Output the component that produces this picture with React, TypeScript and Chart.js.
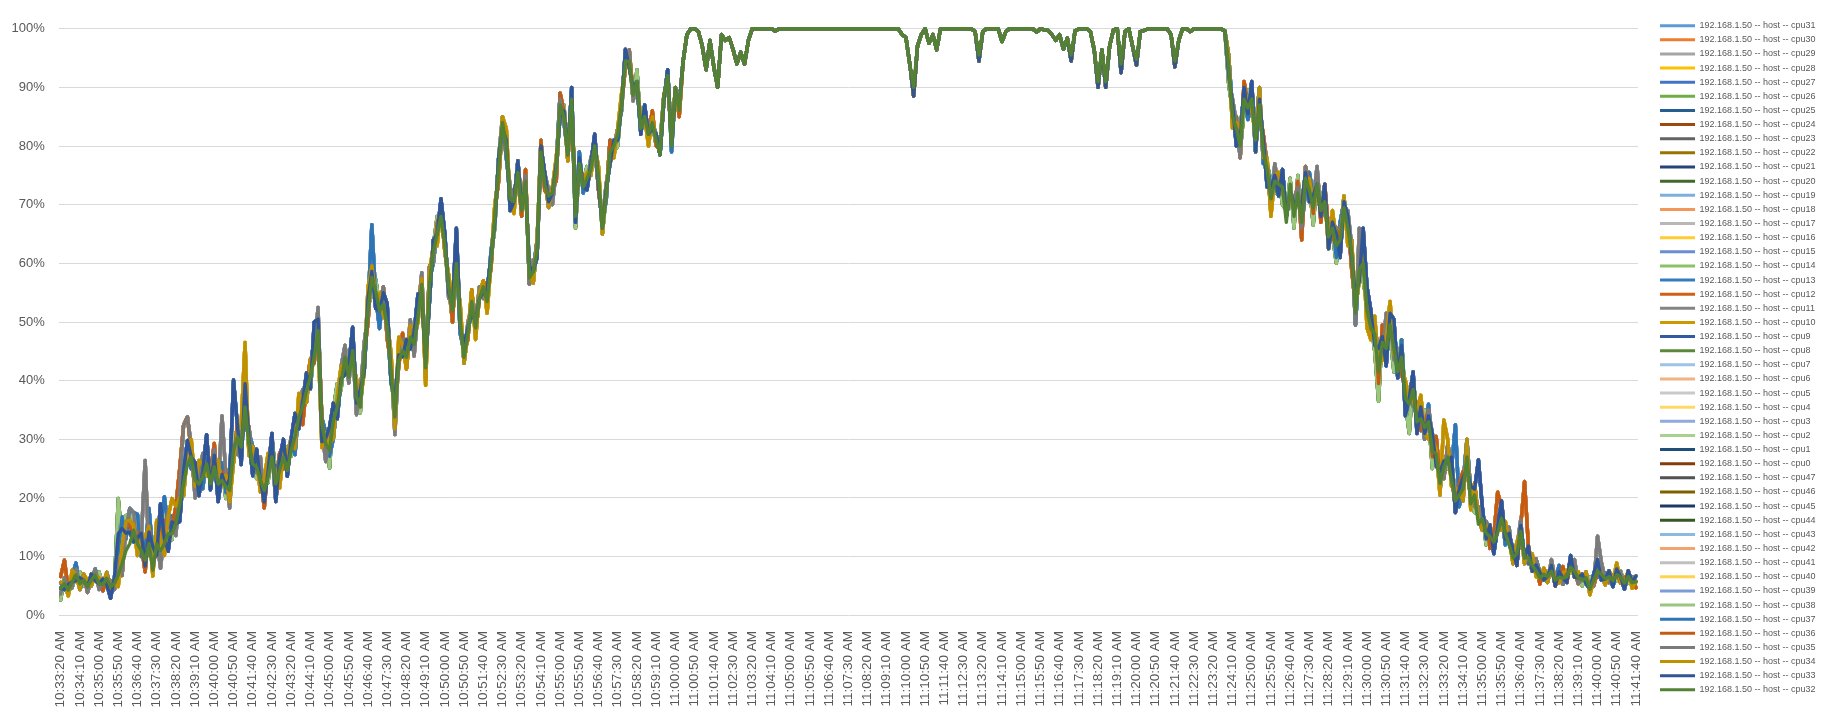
import React, { useEffect, useRef } from 'react';
import { Chart, registerables } from 'chart.js';

Chart.register(...registerables);

// ---------- categories (10-second samples) ----------
const START_TIME = '10:33:20';
const STEP_SECONDS = 10;
const LABEL_EVERY = 5; // an axis label every 50 s

// ---------- series names / colours (legend order) ----------
const HOST = '192.168.1.50 -- host -- ';
const CPU_IDS = [
  31, 30, 29, 28, 27, 26, 25, 24, 23, 22, 21, 20, 19, 18, 17, 16, 15, 14, 13, 12, 11, 10, 9, 8,
  7, 6, 5, 4, 3, 2, 1, 0, 47, 46, 45, 44, 43, 42, 41, 40, 39, 38, 37, 36, 35, 34, 33, 32,
];
const COLORS = [
  '#5B9BD5', '#ED7D31', '#A5A5A5', '#FFC000', '#4472C4', '#70AD47',
  '#255E91', '#9E480E', '#636363', '#997300', '#264478', '#43682B',
  '#7CAFDD', '#F1975A', '#B7B7B7', '#FFCD33', '#698ED0', '#8CC168',
  '#327DC2', '#D26012', '#848484', '#CC9A00', '#335AA1', '#5A8A39',
  '#9DC3E6', '#F4B183', '#C9C9C9', '#FFD966', '#8FAADC', '#A9D18E',
  '#1F4E79', '#843C0C', '#525252', '#7F6000', '#203864', '#385723',
  '#8CB9E2', '#F2A46F', '#C0C0C0', '#FFD34D', '#7C9CD6', '#9BC67E',
  '#2E75B6', '#C55A11', '#7B7B7B', '#BF9000', '#2F5597', '#548235',
];

// ---------- main (top-most, cpu32) curve, % ----------
const BASE = [
  4.6, 5.4, 4.3, 5.7, 6.9, 5.4, 6, 4.9, 6, 6.9,
  5.4, 5.2, 6.3, 4.9, 5.4, 6.9, 8.8, 11, 12.2, 14.5,
  12.2, 11, 9.4, 12.2, 7.7, 12.2, 11, 12.2, 13.9, 13.9,
  15.6, 19, 22.4, 25.8, 27, 23, 22.4, 23.6, 25.8, 22.4,
  25.3, 22.4, 23, 21.9, 21.3, 28.1, 30.4, 28.7, 35.5, 29.2,
  25.8, 25.3, 23, 21.3, 23.6, 27, 22.4, 24.7, 27, 24.7,
  28.1, 30.4, 33.8, 35.5, 38.3, 40.6, 44, 48.5, 32.6, 29.2,
  28.1, 33.2, 35.5, 39.4, 44, 40.6, 45.1, 37.2, 35.5, 43.4,
  51.9, 57.6, 55.3, 51.9, 53, 49.1, 41.7, 33.8, 43.4, 45.1,
  44, 47.4, 46.2, 50.8, 56.4, 42.2, 56.4, 62, 65, 68,
  63, 56, 52, 60, 50, 44, 48, 53.5, 49, 54,
  56, 53.5, 60, 68, 76, 84, 80, 71, 70.5, 75.5,
  69, 74, 57.5, 58.6, 62, 79, 73.4, 71.5, 72, 76,
  87, 85, 78.5, 88, 68, 77, 73, 74.5, 76, 80,
  74.5, 66, 71.7, 79, 80, 82, 87, 94.5, 94.4, 88.7,
  91, 83, 85, 82, 84, 81, 78.5, 88.7, 92, 80,
  90, 86, 94.4, 99, 100, 100, 99.5, 97, 93, 98,
  93.5, 90, 99, 98, 98.5, 96.5, 94, 96, 94, 98,
  100, 100, 100, 100, 100, 100, 99.6, 100, 100, 100,
  100, 100, 100, 100, 100, 100, 100, 100, 100, 100,
  100, 100, 100, 100, 100, 100, 100, 100, 100, 100,
  100, 100, 100, 100, 100, 100, 100, 100, 100, 99,
  98.5, 94, 90, 97, 99, 100, 97.5, 99, 96.4, 100,
  100, 100, 100, 100, 100, 100, 100, 100, 99.5, 95.5,
  99.5, 100, 100, 100, 100, 97.8, 99.5, 100, 100, 100,
  100, 100, 100, 100, 99.4, 100, 99.8, 99.7, 99, 98,
  99, 96.5, 98.4, 95.5, 99.6, 100, 100, 100, 99.5, 96.4,
  91, 96.4, 91, 97, 99.8, 100, 94, 99.5, 100, 97,
  94.8, 99.5, 99.7, 100, 100, 100, 100, 100, 100, 99,
  94.5, 98, 100, 100, 99.5, 100, 100, 100, 100, 100,
  100, 100, 100, 99.6, 93.5, 85, 83, 80, 88, 86.5,
  88, 81, 87, 79, 76, 71, 74, 73.5, 73, 67,
  73.5, 68, 72, 67, 74.5, 72.5, 69.5, 73.5, 69, 70.5,
  64.5, 66, 63, 64, 69.5, 66, 62, 51.5, 59, 60,
  52, 49, 48, 41.5, 46.5, 45.5, 49.5, 45.5, 41.5, 44,
  37, 36, 38.5, 33, 33.5, 32, 33, 28, 27.5, 22.5,
  25.3, 27, 23, 19.5, 20.5, 21.5, 27, 19, 20.5, 15.5,
  16.5, 14, 13.4, 12.5, 14, 16.5, 14, 12, 9.8, 10.5,
  14.3, 9.8, 9.8, 8.5, 7.6, 6.3, 7, 6.6, 7.5, 6,
  6.5, 6.3, 6.6, 8.2, 7.5, 6.4, 6, 6.4, 4.5, 6,
  7.5, 7, 6.2, 6.6, 5.9, 6.9, 6.5, 5.5, 6.6, 5.6,
  5.7,
];

// ---------- how the other cores sit around the main curve (percentage points) ----------
// regions start at these sample indices; samples 163..303 form the 100 % plateau
const REGION_STARTS = [0, 15, 45, 100, 304, 341, 385];
const PLATEAU_FIRST = 163;
const PLATEAU_LAST = 303;
const PLATEAU_DIPS = [[222, -1.5], [239, -1], [263, -1], [270, -1], [272, -1], [276, -1.5], [280, -1], [290, -1]];

const VAR_A = [
  [0, -1, 1, 0, -1, 1, 0, 0, 1, -1, 0, 1, -1, -2, 1],
  [7, 6, 3, 2, -2, 1, 3, -1, 2, 4, -2, 8, 1, -3, 2, 0, -3, 2, 4, 0, 3, -2, 1, 5, -1, 2, -3, 1, 0, 2],
  [12, 2, -3, 4, 1, -2, 3, 0, -2, 1, 4, -3, 2, 3, -1, 2, 4, -2, 1, 3, -2, 6, 2, -3, 1, 4, 3, -2, 1, -3, 2, 4, -1, 3, -2, 2, 1, -3, 0, 2, 4, -2, 3, 1, -1, 3, -2, 2, 4, -2, 1, -3, 2, 0, 3],
  [2, -1, 1, 6, -1, 2, 1, -2, 1, 0, -1, 2, 1, -1, 2, -1, 1, -2, 0, 2, 1, -1, 2, 0, -1, 1, 2, -1, 0, 1, -2, 1, 0, 2, -1, 1, 0, -2, 1, 2, -1, 0, 1, -2, 1, -1, 0, 2, -1, 1, 0, -1, 2, 0, -1, 1, 0, -1, 1, 0, -1, 1, 0],
  [-1, 2, -3, 1, 2, -1, 3, -2, 1, 2, -3, 2, 1, -2, 3, 1, -1, 2, -2, 3, 1, -2, 2, 0, -1, 3, -2, 1, 2, -3, 1, 2, -1, 3, -2, 6, 4],
  [3, -2, 4, 1, -3, 2, 5, -1, 2, -3, 1, 3, -2, 2, -1, 1, 3, -2, 2, 1, -1, 4, -2, 1, 2, -2, 3, 1, 11, 2, -1, 2, -2, 1, 3, -1, 2, 1, -2, 1, 0, 2, -1, 1],
  [1, -1, 0, 1, -1, 1, 0, -1, 2, -1, 0, 1, -1, 0, 1, 2, -1, 0, 1, -1, 1, 0, -1, 1, 0, 1],
];
const VAR_B = [
  [1, 0, -1, 2, 0, -1, 1, 1, -1, 0, 1, 0, 1, -1, 0],
  [-2, 3, 5, 4, 1, -2, 2, 4, 3, -1, 4, 2, -2, 3, 6, 3, 1, -2, 2, 3, -1, 4, 2, -2, 3, 1, 4, -1, 2, -2],
  [-2, 1, 4, 11, -2, 3, 1, -2, 2, 4, -1, 2, -3, 1, 3, 2, -2, 4, 1, -2, 3, 1, -1, -4, 2, 1, -3, 2, 3, -1, 2, -2, 3, 1, -2, 4, 2, -1, 3, -2, 1, 3, -2, 4, 1, -2, 2, 3, -1, 1, -3, 2, 1, -2, 2],
  [-1, 2, 1, -2, 3, -1, 0, 2, -2, 1, 1, -2, 0, 2, -1, 1, 3, -1, -2, 1, 2, -1, 1, -2, 2, 0, 1, -2, 1, 2, -1, 1, -1, 0, 2, -2, 1, 1, -1, 0, 2, -1, 1, 0, -2, 1, 2, -1, 0, 1, -1, 2, 0, -2, 1, 0, 1, -1, 0, 1, -2, 0, 0],
  [2, -2, 1, 3, -1, 2, -2, 1, 3, -1, 2, -3, 1, 2, -1, 3, -2, 1, -1, 4, -2, 2, 1, -3, 2, 1, -2, 3, 1, -1, 2, -3, 2, 1, -2, 2, -3],
  [-2, 3, 1, -3, 2, 4, -1, 2, -2, 3, 1, -2, 2, 4, -1, -3, 2, 1, -2, 8, 3, -1, 2, 1, -2, 3, -1, 2, 1, -2, 1, 2, -1, 1, -2, 2, 1, -1, 2, 0, -1, 1, 2, -1],
  [0, 1, -1, 1, 0, -1, 1, 1, 0, -1, 1, 0, 1, -1, 0, 1, 0, -1, 1, 0, 2, -1, 0, 1, -1, 0],
];
const VAR_C = [
  [-1, 1, 0, -1, 1, 0, 1, -1, 0, 1, -1, 1, 0, 1, -1],
  [3, -2, 4, 6, 3, -1, 2, 17, -2, 3, 1, -3, 2, 4, 1, -2, 3, 10, 8, 2, -3, 1, 4, -2, 2, 3, -1, 11, 2, -3],
  [1, -3, 2, -2, 3, 1, -1, 4, -2, 2, 1, -3, 2, -1, 3, 2, -2, 1, 3, -2, 2, 1, 4, -1, -3, 2, 1, -2, 3, 2, -1, 1, -3, 2, 3, -1, 2, -2, 1, 3, -1, 2, -3, 1, 2, -1, 3, -2, 1, 2, -1, 3, -2, 1, 2],
  [1, -2, 2, 0, 1, -1, 2, -1, 1, 2, -2, 1, 0, -1, 2, 1, -1, 2, 0, -2, 1, 1, -1, 2, -1, 0, 2, 1, -2, 0, 1, -1, 2, 0, 1, -2, 1, -1, 2, 0, -1, 1, 2, -2, 0, 1, -1, 1, 2, -1, 0, 1, -1, 2, -1, 0, 1, -1, 0, 2, -1, 1, 0],
  [-2, 3, 1, -2, 2, 1, -1, 3, -2, 2, 1, -2, 3, -1, 1, 2, -2, 3, 1, -1, 2, -2, 1, 3, -1, 2, -2, 1, 3, 2, -1, 3, 1, -2, 7, 2, -1],
  [2, 1, 4, -2, 6, 1, -2, 3, 1, -1, 2, -3, 3, 1, -2, 2, 3, -1, 1, -2, 2, 4, -1, 1, -2, 2, 1, -2, 3, -1, 2, 1, -1, 2, -2, 1, 3, -1, 1, 2, -1, 1, 0, 2],
  [1, 0, -1, 2, 0, 1, -1, 0, 1, 2, -1, 0, 1, 0, -1, 6, 2, 0, -1, 1, 0, 1, -1, 0, 1, 0],
];
const VAR_D = [
  [2, 4, 0, 1, -1, 0, 1, -1, 1, 0, 1, -1, 0, 1, 0],
  [2, -2, 5, 3, -1, 2, 1, -2, 3, 1, -1, 2, 4, -2, 1, 3, 6, 10, 8, 1, -2, 3, 1, -1, 2, 4, -2, 1, 3, -1],
  [-1, 2, 1, -2, 3, -1, 2, 1, -3, 2, 1, -1, 3, -2, 2, 1, -1, 2, -3, 1, 3, -1, 2, 1, -2, 3, 1, -1, 2, -3, 1, 2, -1, 3, 1, -2, 2, -1, 1, 3, -2, 1, 2, -1, 3, -2, 1, -1, 2, 1, -2, 3, -1, 2, 1],
  [-1, 1, -2, 2, 0, 1, -1, 2, -1, 0, 1, 2, -1, 1, -2, 0, 2, -1, 1, 0, -1, 2, -1, 1, 0, 2, -1, 0, 1, -2, 2, 1, -1, 0, 1, -1, 2, -1, 0, 1, -2, 1, 0, 2, -1, 1, 0, -1, 2, 0, -1, 1, -1, 0, 2, -1, 1, 0, -1, 1, 0, -1, 0],
  [1, -1, 2, -2, 3, 1, -2, 2, -1, 3, 1, -2, 2, 1, -1, 3, -2, 1, 2, -3, 2, 1, -1, 2, -2, 3, 1, -2, 1, 2, -1, 2, -3, 1, 2, -1, 3],
  [-1, 2, -2, 3, 1, -2, 2, 1, -3, 2, 1, -1, 3, -2, 1, 2, -1, 3, 1, -2, 2, 1, -1, 2, 3, -2, 1, 2, 1, -1, 2, -2, 1, 7, 2, -1, 2, 1, -2, 1, 13, 2, -1, 1],
  [-1, 1, 0, 1, -1, 0, 2, -1, 1, 0, -1, 1, 0, 1, -1, 0, 1, 0, -1, 1, 0, -1, 1, 0, 1, -1],
];
const VAR_E = [
  [-2, 1, 1, -1, 0, 2, -1, 1, 0, -1, 2, 0, -1, 1, 0],
  [13, 4, 6, 5, 2, -1, 3, 1, 4, 2, 3, -2, 5, 2, -1, 3, 1, -2, 4, 2, -1, 3, -2, 2, 1, -1, 3, 2, -2, 1],
  [3, -2, 1, 2, -1, 3, -2, 2, 1, -1, 3, 2, -2, 1, 4, -1, 2, -2, 3, 1, -2, 2, 3, -1, 1, -3, 2, 4, -1, 2, 1, -2, 3, -1, 2, 1, -3, 2, 1, -1, 3, -2, 2, 1, -1, 2, -2, 3, 1, -1, 2, -2, 1, 3, -1],
  [1, 0, -2, 1, 2, -1, 0, 1, -1, 2, 0, -1, 1, -2, 2, 0, 1, -1, 0, 2, -1, 1, 0, -2, 1, 2, 0, -1, 1, -1, 0, 2, -1, 1, -2, 0, 1, 2, -1, 0, 1, -1, 0, 2, -1, -2, 1, 0, 1, -1, 2, 0, -1, 1, 0, -1, 2, 0, -1, 1, 0, 1, 0],
  [-3, 1, 2, -1, -2, 3, 1, -2, 2, -1, 1, 3, -2, 1, -3, 2, 1, -2, 3, -1, 2, 1, -3, 1, 2, -2, 3, -1, -3, 1, 2, -2, 1, -1, 2, -3, 1],
  [1, -3, -5, 2, 1, -2, -4, 1, 3, -1, -5, 2, 1, -2, 3, 1, -3, 2, -1, 1, -2, 3, 1, -1, 2, -2, 1, -3, 2, 1, -2, 1, -1, 2, -1, 1, 2, -1, 1, -2, 1, 0, -1, 1],
  [0, -1, 1, 0, 1, -1, 0, 1, -1, 1, 0, -1, 0, 2, -1, 1, 0, -1, 1, 0, -1, 1, 0, -1, 0, 1],
];
const VAR_F = [
  [1, -1, 0, 1, 2, -1, 0, 1, -1, 1, 0, -1, 1, 0, -1],
  [4, 8, 2, 6, 3, 5, -1, 2, 6, 3, -2, 4, 8, 1, 3, -1, 2, 4, 1, -2, 3, 2, -2, 1, 4, -1, 2, 3, -1, 1],
  [-2, 2, 1, -3, 2, 3, -1, 1, -2, 2, -1, 3, 1, -2, 2, 1, -3, 2, 1, -1, 2, 3, -2, 1, 2, -1, -3, 1, 2, -2, 1, 3, -1, 2, -2, 1, 9, -1, -3, 2, 1, -2, 3, 1, -1, 2, -2, 1, 3, -1, 2, 1, -2, 1, 2],
  [0, 1, -1, 2, -2, 1, 0, -1, 2, 1, -1, 0, 2, -1, 1, 0, -2, 1, 2, -1, 0, 1, -1, 0, 2, -1, 1, -2, 0, 1, 2, -1, 0, 1, -1, 2, -1, 0, 1, 0, -2, 1, -1, 2, 0, -1, 1, 0, -1, 2, -1, 0, 1, -1, 0, 1, 0, -1, 1, -1, 0, 0, 0],
  [2, 1, -2, 3, 1, -2, -1, 2, 3, -2, 1, 2, -1, -2, 3, 1, -2, 2, 1, -1, -2, 3, 2, -1, 1, -2, 2, 1, -2, 3, 1, -1, 2, -2, 1, 3, -1],
  [2, -1, 3, 1, -2, 2, 1, -1, 3, -2, 2, 1, -1, 2, -2, 3, 1, -1, 2, 1, -1, 2, 13, -2, 1, 3, 2, -1, 1, -2, 2, 1, -1, 3, 1, -2, 1, 2, -1, 1, 0, -1, 1, 2],
  [1, 0, -1, 1, 0, 2, -1, 0, 1, -1, 0, 1, -1, 0, 1, -1, 0, 1, 0, -1, 1, 0, -1, 0, 1, 0],
];
// which spread profile each core (by legend position mod 6) follows
const VARIANTS = [VAR_F, VAR_D, VAR_C, VAR_B, VAR_A, VAR_E];

const FONT = '"Liberation Sans", Arial, sans-serif';
const TEXT = '#595959';

function fmtTime(sec: number): string {
  const h = Math.floor(sec / 3600);
  const m = Math.floor((sec % 3600) / 60);
  const s = sec % 60;
  const h12 = h % 12 === 0 ? 12 : h % 12;
  const pad = (n: number) => (n < 10 ? '0' + n : '' + n);
  return `${h12}:${pad(m)}:${pad(s)} ${h < 12 ? 'AM' : 'PM'}`;
}

function buildLabels(n: number): string[] {
  const [h, m, s] = START_TIME.split(':').map(Number);
  const t0 = h * 3600 + m * 60 + s;
  const out: string[] = [];
  for (let i = 0; i < n; i++) out.push(fmtTime(t0 + i * STEP_SECONDS));
  return out;
}

function offsetAt(variant: number[][], i: number): number {
  if (i >= PLATEAU_FIRST && i <= PLATEAU_LAST) {
    const d = PLATEAU_DIPS.find((p) => p[0] === i);
    return d ? d[1] : 0;
  }
  let r = REGION_STARTS.length - 1;
  while (r > 0 && i < REGION_STARTS[r]) r--;
  const v = variant[r][i - REGION_STARTS[r]];
  return v === undefined ? 0 : v;
}

export default function App() {
  const ref = useRef<HTMLCanvasElement>(null);

  useEffect(() => {
    document.body.style.margin = '0';
    const canvas = ref.current;
    if (!canvas) return;
    const labels = buildLabels(BASE.length);
    const last = CPU_IDS.length - 1;
    const datasets = CPU_IDS.map((id, k) => {
      const data =
        k === last
          ? BASE.slice()
          : BASE.map((b, i) => Math.max(0, Math.min(100, b + offsetAt(VARIANTS[k % VARIANTS.length], i))));
      return {
        label: HOST + 'cpu' + id,
        data,
        borderColor: COLORS[k],
        backgroundColor: COLORS[k],
        borderWidth: 3.4,
        pointRadius: 0,
        pointHoverRadius: 0,
        tension: 0,
        borderJoinStyle: 'round' as const,
        borderCapStyle: 'round' as const,
        order: last - k,
        clip: false as const,
      };
    });

    const chart = new Chart(canvas, {
      type: 'line',
      data: { labels, datasets },
      options: {
        responsive: false,
        animation: false,
        events: [],
        layout: { padding: { top: 2.5, bottom: 0, left: 11.4, right: 6.4 } },
        plugins: {
          tooltip: { enabled: false },
          legend: {
            position: 'right',
            align: 'center',
            labels: {
              boxWidth: 35,
              boxHeight: 3,
              padding: 5.13,
              color: TEXT,
              font: { family: FONT, size: 9 },
              sort: (a: any, b: any) => a.datasetIndex - b.datasetIndex,
              generateLabels: (c: any) =>
                (Chart.defaults.plugins.legend.labels.generateLabels as any)(c).map((l: any) => ({
                  ...l,
                  lineWidth: 0,
                })),
            },
          },
        },
        scales: {
          x: {
            type: 'category',
            offset: true,
            grid: { display: false },
            border: { display: false },
            ticks: {
              autoSkip: false,
              minRotation: 90,
              maxRotation: 90,
              padding: 7.7,
              color: TEXT,
              font: { family: FONT, size: 13.5 },
              callback: function (this: any, v: any, i: number) {
                return i % LABEL_EVERY === 0 ? this.getLabelForValue(v) : null;
              },
            },
            afterFit: (s: any) => {
              s.height = 97.7;
              s.paddingLeft = 0;
            },
          },
          y: {
            min: 0,
            max: 100,
            grid: { color: '#D9D9D9', lineWidth: 1, drawTicks: false },
            border: { display: false },
            ticks: {
              stepSize: 10,
              padding: 14,
              color: TEXT,
              font: { family: FONT, size: 13 },
              callback: (v: any) => v + '%',
            },
            afterFit: (s: any) => {
              s.width = 47.3;
              s.paddingTop = 28.7;
              s.paddingBottom = 0;
            },
          },
          gap: {
            type: 'linear',
            position: 'right',
            grid: { display: false },
            border: { display: false },
            ticks: { display: false },
            afterFit: (s: any) => {
              s.width = 17;
              s.paddingTop = 0;
              s.paddingBottom = 0;
            },
          },
        },
      } as any,
    });
    return () => chart.destroy();
  }, []);

  return (
    <div style={{ width: 1832, height: 713, background: '#fff' }}>
      <canvas ref={ref} width={1832} height={713} style={{ display: 'block' }} />
    </div>
  );
}
